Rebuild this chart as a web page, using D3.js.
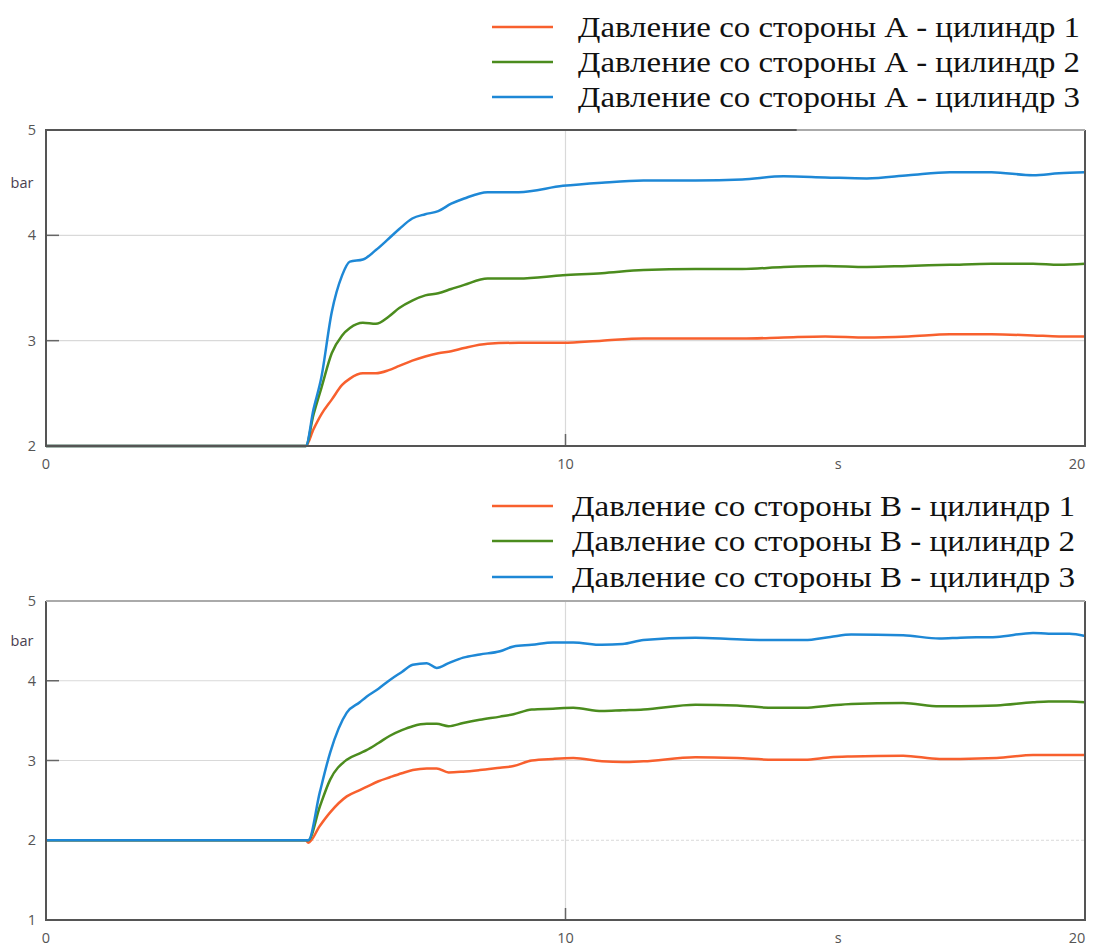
<!DOCTYPE html>
<html><head><meta charset="utf-8">
<script src="https://cdn.jsdelivr.net/npm/d3@7"></script>
<style>
html,body{margin:0;padding:0;background:#fff;}
svg{display:block;}
</style></head>
<body>
<svg id="c" width="1096" height="947"></svg>
<script>
// ---------- DATA ----------
const seriesNames = ["цилиндр 1", "цилиндр 2", "цилиндр 3"];
const legendA = ["Давление со стороны А - цилиндр 1", "Давление со стороны А - цилиндр 2", "Давление со стороны А - цилиндр 3"];
const legendB = ["Давление со стороны B - цилиндр 1", "Давление со стороны B - цилиндр 2", "Давление со стороны B - цилиндр 3"];
const xTicks = [0, 10, 20];
const yTicksA = [2, 3, 4, 5];
const yTicksB = [1, 2, 3, 4, 5];
const yUnit = "bar";
const xUnit = "s";

const timeA = [0, 5, 5.15, 5.3, 5.5, 5.7, 5.85, 6.1, 6.35, 6.6, 6.8, 7.05, 7.3, 7.55, 7.8, 8.05, 8.5, 9.1, 9.95, 10.7, 11.5, 12.5, 13.4, 14.2, 15.0, 15.8, 16.6, 17.4, 18.2, 19.0, 19.5, 20];
const a1 = [2, 2, 2.16, 2.30, 2.44, 2.58, 2.64, 2.69, 2.69, 2.72, 2.76, 2.81, 2.85, 2.88, 2.90, 2.93, 2.97, 2.98, 2.98, 3.00, 3.02, 3.02, 3.02, 3.03, 3.04, 3.03, 3.04, 3.06, 3.06, 3.05, 3.04, 3.04];
const a2 = [2, 2, 2.30, 2.55, 2.88, 3.05, 3.12, 3.17, 3.16, 3.23, 3.31, 3.38, 3.43, 3.45, 3.49, 3.53, 3.59, 3.59, 3.62, 3.64, 3.67, 3.68, 3.68, 3.70, 3.71, 3.70, 3.71, 3.72, 3.73, 3.73, 3.72, 3.73];
const a3 = [2, 2, 2.35, 2.65, 3.27, 3.62, 3.75, 3.77, 3.86, 3.97, 4.06, 4.16, 4.20, 4.23, 4.30, 4.35, 4.41, 4.41, 4.47, 4.50, 4.52, 4.52, 4.53, 4.56, 4.55, 4.54, 4.57, 4.60, 4.60, 4.57, 4.59, 4.60];

const timeB = [0, 5, 5.05, 5.27, 5.47, 5.79, 6.04, 6.17, 6.4, 6.62, 6.85, 7.06, 7.33, 7.52, 7.75, 8.03, 8.35, 8.74, 9.0, 9.35, 9.76, 10.15, 10.7, 11.1, 11.5, 12.5, 13.3, 14.0, 14.6, 15.1, 15.5, 16.5, 17.2, 17.6, 18.3, 19.0, 19.3, 19.7, 20];
const b1 = [2, 2, 1.97, 2.18, 2.35, 2.55, 2.63, 2.67, 2.74, 2.79, 2.84, 2.88, 2.90, 2.90, 2.85, 2.86, 2.88, 2.91, 2.93, 3.00, 3.02, 3.03, 2.99, 2.98, 2.99, 3.04, 3.03, 3.01, 3.01, 3.04, 3.05, 3.06, 3.02, 3.02, 3.03, 3.07, 3.07, 3.07, 3.07];
const b2 = [2, 2, 2.00, 2.42, 2.76, 3.01, 3.09, 3.13, 3.22, 3.31, 3.38, 3.43, 3.46, 3.46, 3.43, 3.47, 3.51, 3.55, 3.58, 3.64, 3.65, 3.66, 3.62, 3.63, 3.64, 3.70, 3.69, 3.66, 3.66, 3.69, 3.71, 3.72, 3.68, 3.68, 3.69, 3.73, 3.74, 3.74, 3.73];
const b3 = [2, 2, 2.00, 2.60, 3.10, 3.60, 3.73, 3.80, 3.90, 4.01, 4.11, 4.20, 4.22, 4.16, 4.22, 4.29, 4.33, 4.37, 4.43, 4.45, 4.48, 4.48, 4.45, 4.46, 4.51, 4.54, 4.52, 4.51, 4.51, 4.55, 4.58, 4.57, 4.53, 4.54, 4.55, 4.60, 4.59, 4.59, 4.56];

const colors = ["#f8602e", "#4b8c1e", "#1e88d6"];

// ---------- DRAW ----------
const svg = d3.select("#c");
const tickFont = "'Open Sans','Noto Sans',sans-serif";

function panel(cfg) {
  const g = svg.append("g");
  const x = d3.scaleLinear().domain([0, 20]).range([cfg.left, cfg.right]);
  const y = d3.scaleLinear().domain(cfg.yDomain).range([cfg.bottom, cfg.top]);

  // legend
  const lg = g.append("g");
  cfg.legend.forEach((name, i) => {
    const yy = cfg.legendY[i];
    lg.append("line").attr("x1", 492).attr("x2", 553).attr("y1", yy).attr("y2", yy)
      .attr("stroke", colors[i]).attr("stroke-width", 2.5);
    lg.append("text").attr("x", cfg.legendX).attr("y", yy).attr("dy", "0.33em")
      .attr("font-family", "'Liberation Serif','Times New Roman',serif")
      .attr("font-size", 29).attr("fill", "#111")
      .attr("textLength", cfg.legendW).attr("lengthAdjust", "spacingAndGlyphs")
      .text(name);
  });

  // gridlines
  const gridY = cfg.gridY;
  g.selectAll(".gh").data(gridY).enter().append("line")
    .attr("x1", cfg.left).attr("x2", cfg.right)
    .attr("y1", d => y(d)).attr("y2", d => y(d))
    .attr("stroke", "#d9d9d9").attr("stroke-width", 1.2)
    .attr("stroke-dasharray", d => d === 2 && cfg.dash2 ? "3,2" : null);
  g.append("line").attr("x1", x(10)).attr("x2", x(10)).attr("y1", cfg.top).attr("y2", cfg.bottom)
    .attr("stroke", "#d9d9d9").attr("stroke-width", 1.2);
  // small dark ticks
  g.selectAll(".tk").data(gridY.filter(d => d !== 2)).enter().append("line")
    .attr("x1", cfg.left).attr("x2", cfg.left + 13)
    .attr("y1", d => y(d)).attr("y2", d => y(d))
    .attr("stroke", "#666").attr("stroke-width", 1.5);
  g.append("line").attr("x1", x(10)).attr("x2", x(10)).attr("y1", cfg.bottom).attr("y2", cfg.bottom - 12)
    .attr("stroke", "#666").attr("stroke-width", 1.5);

  // lines
  const line = d3.line().x(d => x(d[0])).y(d => y(d[1])).curve(d3.curveMonotoneX);
  cfg.series.forEach((vals, i) => {
    g.append("path").datum(cfg.time.map((t, k) => [t, vals[k]]))
      .attr("d", line).attr("fill", "none")
      .attr("stroke", colors[i]).attr("stroke-width", 2.5).attr("stroke-linejoin", "round");
  });

  // frame
  g.append("line").attr("x1", cfg.left).attr("x2", cfg.left).attr("y1", cfg.top).attr("y2", cfg.bottom + 1)
    .attr("stroke", "#555").attr("stroke-width", 2);
  g.append("line").attr("x1", cfg.left).attr("x2", cfg.right).attr("y1", cfg.bottom).attr("y2", cfg.bottom)
    .attr("stroke", "#555").attr("stroke-width", 2);
  g.append("line").attr("x1", cfg.right).attr("x2", cfg.right).attr("y1", cfg.top).attr("y2", cfg.bottom + 1)
    .attr("stroke", "#555").attr("stroke-width", 2);
  g.append("line").attr("x1", cfg.left).attr("x2", cfg.right).attr("y1", cfg.top).attr("y2", cfg.top)
    .attr("stroke", "#aaa").attr("stroke-width", 2);
  if (cfg.darkTopTo) {
    g.append("line").attr("x1", cfg.left - 1).attr("x2", x(cfg.darkTopTo)).attr("y1", cfg.top).attr("y2", cfg.top)
      .attr("stroke", "#555").attr("stroke-width", 2);
  }

  // y tick labels
  g.selectAll(".yl").data(cfg.yTicks).enter().append("text")
    .attr("x", 36).attr("y", d => y(d)).attr("dy", "0.35em").attr("text-anchor", "end")
    .attr("font-family", tickFont).attr("font-size", 14.5).attr("fill", "#555").text(d => d);
  g.append("text").attr("x", 22).attr("y", y(4.5)).attr("dy", "0.35em").attr("text-anchor", "middle")
    .attr("font-family", tickFont).attr("font-size", 14.5).attr("fill", "#4a4050").text(yUnit);

  // x tick labels
  g.selectAll(".xl").data(xTicks).enter().append("text")
    .attr("x", d => d === 20 ? x(d) - 8 : x(d)).attr("y", cfg.bottom + 18).attr("dy", "0.35em").attr("text-anchor", "middle")
    .attr("font-family", tickFont).attr("font-size", 14.5).attr("fill", "#555").text(d => d);
  g.append("text").attr("x", x(15.25)).attr("y", cfg.bottom + 18).attr("dy", "0.35em").attr("text-anchor", "middle")
    .attr("font-family", tickFont).attr("font-size", 14.5).attr("fill", "#555").text(xUnit);
}

panel({
  left: 46, right: 1085, top: 130, bottom: 446, yDomain: [2, 5],
  yTicks: yTicksA, gridY: [3, 4], legend: legendA, legendY: [27, 62, 97], legendX: 578, legendW: 502,
  time: timeA, series: [a1, a2, a3], darkTopTo: 14.45
});
panel({
  left: 46, right: 1085, top: 601, bottom: 920, yDomain: [1, 5],
  yTicks: yTicksB, gridY: [2, 3, 4], dash2: true, legend: legendB, legendY: [506, 541, 577], legendX: 572, legendW: 503,
  time: timeB, series: [b1, b2, b3]
});
</script>
</body></html>
